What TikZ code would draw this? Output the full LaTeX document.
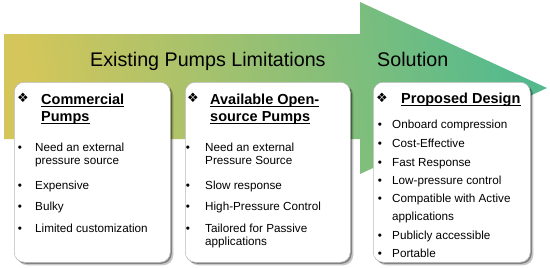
\documentclass[tikz,border=0pt]{standalone}
\usepackage{fontspec}
\setmainfont{Liberation Sans}
\newfontfamily\symfont{DejaVu Sans}
\usetikzlibrary{shadows}
\definecolor{arrY}{RGB}{212,198,90}
\definecolor{arrM}{RGB}{142,190,112}
\definecolor{arrG}{RGB}{84,186,142}
\begin{document}
\begin{tikzpicture}[x=1pt,y=-1pt,
  titletxt/.style={font=\fontsize{19.7}{22}\selectfont, inner sep=0pt, anchor=base west},
  headtxt/.style={font=\fontsize{14.5}{17}\selectfont\bfseries, inner sep=0pt, anchor=base west},
  itemtxt/.style={font=\fontsize{11.7}{13}\selectfont, inner sep=0pt, anchor=base west},
  bul/.style={font=\fontsize{11.7}{13}\selectfont, inner sep=0pt, anchor=base},
  sym/.style={font=\symfont\fontsize{13}{15}\selectfont, inner sep=0pt, anchor=base},
  card/.style={fill=white, draw=gray!55, line width=0.5pt, rounded corners=10pt,
    anchor=north west, minimum height=180pt, inner sep=0pt,
    drop shadow={shadow xshift=3pt, shadow yshift=-3pt, opacity=0.22, fill=black},
    drop shadow={shadow xshift=1.5pt, shadow yshift=-1.5pt, opacity=0.35, fill=black}},
  ul/.style={line width=1.1pt}
]
\useasboundingbox (0,0) rectangle (550,268);
% big arrow
\path[left color=arrY, middle color=arrM, right color=arrG, shading angle=100]
  (4,34) -- (360,34) -- (360,2) -- (547,88) -- (360,174) -- (360,139) -- (4,139) -- cycle;
\node[titletxt] (t1) at (90,66) {Existing Pumps Limitations};
\node[titletxt] (t2) at (377,66) {Solution};
% cards
\node[card, minimum width=156pt] (c1) at (14,82) {};
\node[card, minimum width=165pt] (c2) at (185,82) {};
\node[card, minimum width=157pt] (c3) at (373,82) {};
% headers
\node[sym] (s1) at (23,102.5) {❖};
\node[sym] (s2) at (193,102.5) {❖};
\node[sym] (s3) at (382,102.5) {❖};
\node[headtxt] (h1a) at (41,104) {Commercial};
\node[headtxt] (h1b) at (41,121) {Pumps};
\node[headtxt] (h2a) at (210,104) {Available Open-};
\node[headtxt] (h2b) at (210,121) {source Pumps};
\node[headtxt] (h3a) at (401,103) {Proposed Design};
\foreach \n in {h1a,h1b,h2a,h2b,h3a}
  \draw[ul] ([yshift=-2.6pt]\n.base west) -- ([yshift=-2.6pt]\n.base east);
% card 1 items
\node[bul] (b11) at (20,151) {•};
\node[itemtxt] (i11) at (35,151) {Need an external};
\node[itemtxt] (i11b) at (35,164) {pressure source};
\node[bul] (b12) at (20,189) {•};
\node[itemtxt] (i12) at (35,189) {Expensive};
\node[bul] (b13) at (20,210) {•};
\node[itemtxt] (i13) at (35,210) {Bulky};
\node[bul] (b14) at (20,232) {•};
\node[itemtxt] (i14) at (35,232) {Limited customization};
% card 2 items
\node[bul] (b21) at (188,151) {•};
\node[itemtxt] (i21) at (205,151) {Need an external};
\node[itemtxt] (i21b) at (205,164) {Pressure Source};
\node[bul] (b22) at (188,189) {•};
\node[itemtxt] (i22) at (205,189) {Slow response};
\node[bul] (b23) at (188,210) {•};
\node[itemtxt] (i23) at (205,210) {High-Pressure Control};
\node[bul] (b24) at (188,232) {•};
\node[itemtxt] (i24) at (205,232) {Tailored for Passive};
\node[itemtxt] (i24b) at (205,245) {applications};
% card 3 items
\node[bul] (b31) at (380,128) {•};
\node[itemtxt] (i31) at (392,128) {Onboard compression};
\node[bul] (b32) at (380,147) {•};
\node[itemtxt] (i32) at (392,147) {Cost-Effective};
\node[bul] (b33) at (380,166) {•};
\node[itemtxt] (i33) at (392,166) {Fast Response};
\node[bul] (b34) at (380,184) {•};
\node[itemtxt] (i34) at (392,184) {Low-pressure control};
\node[bul] (b35) at (380,202) {•};
\node[itemtxt] (i35) at (392,202) {Compatible with Active};
\node[itemtxt] (i35b) at (392,220) {applications};
\node[bul] (b36) at (380,239) {•};
\node[itemtxt] (i36) at (392,239) {Publicly accessible};
\node[bul] (b37) at (380,257) {•};
\node[itemtxt] (i37) at (392,257) {Portable};
\end{tikzpicture}
\end{document}
